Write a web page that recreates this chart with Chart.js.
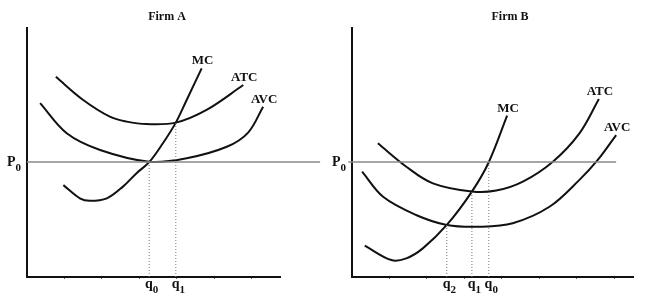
<!DOCTYPE html>
<html>
<head>
<meta charset="utf-8">
<script src="https://cdn.jsdelivr.net/npm/chart.js@4.4.0/dist/chart.umd.min.js"></script>
<style>
    body { margin: 0; background: #fff; }
    #wrap { position: relative; width: 646px; height: 308px; }
    #wrap canvas { position: absolute; top: 0; }
</style>
</head>
<body>
<div id="wrap">
    <canvas id="firmA" width="323" height="308" style="left:0"></canvas>
    <canvas id="firmB" width="323" height="308" style="left:323px"></canvas>
</div>
<script>

// ---- Firm A data (quantity, cost) ----
var priceA = 4.62;
var mcA  = [[0.97, 3.69], [1.41, 3.16], [1.68, 3.06], [2.13, 3.16], [2.56, 3.63], [2.93, 4.18], [3.26, 4.61], [3.63, 5.38], [3.97, 6.20], [4.26, 7.11], [4.66, 8.38]];
var atcA = [[0.77, 8.04], [1.50, 7.11], [2.21, 6.44], [2.66, 6.24], [3.19, 6.14], [3.97, 6.20], [4.79, 6.71], [5.77, 7.71]];
var avcA = [[0.35, 6.98], [1.06, 5.77], [1.95, 5.10], [3.26, 4.63], [4.26, 4.77], [5.33, 5.23], [5.90, 5.80], [6.30, 6.84]];
var qA      = [3.26, 3.97];
var qTopA   = [4.61, 6.20];
var qNamesA = ['0', '1'];

// ---- Firm B data ----
var priceB = 4.62;
var mcB  = [[0.34, 1.26], [1.05, 0.68], [1.45, 0.75], [1.89, 1.15], [2.53, 2.09], [3.20, 3.43], [3.65, 4.61], [4.14, 6.48]];
var atcB = [[0.69, 5.37], [1.45, 4.43], [2.16, 3.76], [3.20, 3.43], [3.85, 3.47], [4.56, 3.83], [5.36, 4.63], [6.07, 5.77], [6.59, 7.15]];
var avcB = [[0.27, 4.23], [0.83, 3.22], [1.71, 2.49], [2.53, 2.09], [3.41, 2.02], [4.29, 2.16], [5.27, 2.82], [6.07, 3.90], [6.56, 4.70], [7.05, 5.70]];
var qB      = [2.53, 3.20, 3.65];
var qTopB   = [2.09, 3.43, 4.61];
var qNamesB = ['2', '1', '0'];

var tickMarks = [1, 2, 3, 4, 5, 6, 7];
var serif = '"Liberation Serif", "Times New Roman", serif';

function pts(arr) {
    return arr.map(function(p) { return { x: p[0], y: p[1] }; });
}

function curve(label, arr) {
    return {
        label: label, data: pts(arr), tag: true,
        borderColor: '#111', borderWidth: 2, pointRadius: 0,
        tension: 0.35, fill: false
    };
}

function drawSub(ctx, base, sub, x, y, align) {
    ctx.font = 'bold 14px ' + serif;
    var w1 = ctx.measureText(base).width;
    ctx.font = 'bold 11px ' + serif;
    var w2 = ctx.measureText(sub).width;
    var left = align === 'right' ? x - w1 - w2 : x - (w1 + w2) / 2;
    ctx.textAlign = 'left';
    ctx.textBaseline = 'alphabetic';
    ctx.font = 'bold 14px ' + serif;
    ctx.fillText(base, left, y);
    ctx.font = 'bold 11px ' + serif;
    ctx.fillText(sub, left + w1, y + 5);
}

// labels: title, curve names, P0 and q's
var econLabels = {
    id: 'econLabels',
    afterDatasetsDraw: function(chart, args, opts) {
        var ctx = chart.ctx, area = chart.chartArea;
        var x = chart.scales.x, y = chart.scales.y;
        ctx.save();
        ctx.fillStyle = '#111';

        ctx.font = 'bold 12px ' + serif;
        ctx.textAlign = 'center';
        ctx.textBaseline = 'alphabetic';
        ctx.fillText(opts.title, area.left + opts.titleX, 20);

        chart.data.datasets.forEach(function(ds, i) {
            if (!ds.tag) return;
            var els = chart.getDatasetMeta(i).data;
            var last = els[els.length - 1];
            ctx.font = 'bold 13px ' + serif;
            ctx.textAlign = 'center';
            ctx.fillText(ds.label, last.x + 1, last.y - 4);
        });

        drawSub(ctx, 'P', '0', area.left - 6, y.getPixelForValue(opts.price) + 4, 'right');
        opts.q.forEach(function(v, i) {
            drawSub(ctx, 'q', opts.qNames[i], x.getPixelForValue(v) + 2.5, area.bottom + 11, 'center');
        });
        ctx.restore();
    }
};

function makeFirm(id, cfg) {
    var sets = [
        {
            data: [{ x: cfg.pFrom, y: cfg.price }, { x: cfg.pTo, y: cfg.price }],
            borderColor: '#8a8a8a', borderWidth: 1.5, pointRadius: 0, clip: false
        }
    ];
    cfg.q.forEach(function(v, i) {
        sets.push({
            data: [{ x: v, y: 0 }, { x: v, y: cfg.qTop[i] }],
            borderColor: '#777', borderWidth: 1, borderDash: [1, 2], pointRadius: 0
        });
    });
    sets.push(curve('MC', cfg.mc), curve('ATC', cfg.atc), curve('AVC', cfg.avc));

    return new Chart(document.getElementById(id).getContext('2d'), {
        type: 'line',
        data: { datasets: sets },
        options: {
            responsive: false,
            animation: false,
            events: [],
            layout: { padding: { top: 28, right: cfg.padRight, left: 0, bottom: 0 } },
            scales: {
                x: {
                    type: 'linear', min: 0, max: cfg.xMax,
                    afterBuildTicks: function(s) {
                        s.ticks = tickMarks.filter(function(v) { return v < cfg.xMax; })
                            .map(function(v) { return { value: v }; });
                    },
                    afterFit: function(s) { s.height = 31; },
                    ticks: { display: false },
                    grid: { drawOnChartArea: false, drawTicks: true, tickLength: 2, color: '#666' },
                    border: { color: '#111', width: 2 }
                },
                y: {
                    min: 0, max: 10,
                    afterFit: function(s) { s.width = cfg.leftW; },
                    ticks: { display: false },
                    grid: { display: false },
                    border: { color: '#111', width: 2 }
                }
            },
            plugins: {
                legend: { display: false },
                tooltip: { enabled: false },
                econLabels: {
                    title: cfg.title, titleX: cfg.titleX, price: cfg.price,
                    q: cfg.q, qNames: cfg.qNames
                }
            }
        },
        plugins: [econLabels]
    });
}

makeFirm('firmA', {
    title: 'Firm A', titleX: 140, leftW: 27, padRight: 43, xMax: 6.75,
    price: priceA, pFrom: 0, pTo: 7.82,
    mc: mcA, atc: atcA, avc: avcA, q: qA, qTop: qTopA, qNames: qNamesA
});

makeFirm('firmB', {
    title: 'Firm B', titleX: 158, leftW: 29, padRight: 13, xMax: 7.5,
    price: priceB, pFrom: -0.1, pTo: 7.05,
    mc: mcB, atc: atcB, avc: avcB, q: qB, qTop: qTopB, qNames: qNamesB
});

</script>
</body>
</html>
